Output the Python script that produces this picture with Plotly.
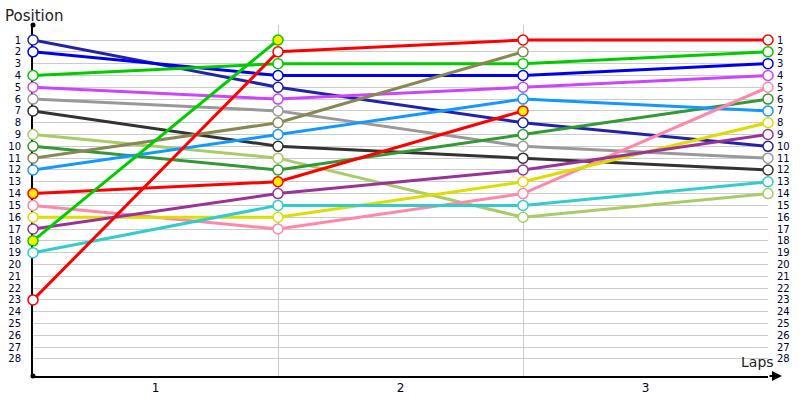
import plotly.graph_objects as go

laps = [0, 1, 2, 3]
lap_labels = ["1", "2", "3"]
positions_axis = list(range(1, 29))

navy = [1, 5, 8, 10]
blue = [2, 4, 4, 3]
green = [4, 3, 3, 2]
violet = [5, 6, 5, 4]
gray = [6, 7, 10, 11]
darkgray = [7, 10, 11, 12]
lightgreen = [9, 11, 16, 14]
darkgreen = [10, 12, 9, 6]
olive = [11, 8, 2]
lightblue = [12, 9, 6, 7]
red_current = [14, 13, 7]
pink = [15, 17, 14, 5]
yellow = [16, 16, 13, 8]
purple = [17, 14, 12, 9]
green_current = [18, 1]
cyan = [19, 15, 15, 13]
red = [23, 2, 1, 1]

series = [
    (navy, "#2222aa", "white"),
    (blue, "#0000ee", "white"),
    (green, "#00cc00", "white"),
    (violet, "#cc44ff", "white"),
    (gray, "#999999", "white"),
    (darkgray, "#333333", "white"),
    (lightgreen, "#a8cc66", "white"),
    (darkgreen, "#339933", "white"),
    (olive, "#888855", "white"),
    (lightblue, "#1199ff", "white"),
    (pink, "#ff88aa", "white"),
    (yellow, "#dddd00", "white"),
    (purple, "#993399", "white"),
    (cyan, "#33cccc", "white"),
    (red_current, "#ff0000", "#ffee00"),
    (green_current, "#00cc00", "#ffee00"),
    (red, "#ff0000", "white"),
]

fig = go.Figure()
for vals, col, fill in series:
    fig.add_trace(go.Scatter(
        x=laps[:len(vals)], y=vals, mode="lines+markers",
        line=dict(color=col, width=3),
        marker=dict(size=10, color=fill, line=dict(color=col, width=1.5)),
        cliponaxis=False, hoverinfo="skip", showlegend=False,
    ))
# invisible trace to carry right axis
fig.add_trace(go.Scatter(x=[0], y=[1], yaxis="y2", mode="markers",
                         marker=dict(opacity=0), showlegend=False, hoverinfo="skip"))

W, H = 735, 351
yr = [29.44, -0.27]
tickfont = dict(family="DejaVu Sans", size=10, color="#000033")
fig.update_layout(
    width=800, height=400,
    margin=dict(l=33, r=32, t=25, b=24, autoexpand=False),
    plot_bgcolor="white", paper_bgcolor="white",
    xaxis=dict(range=[0, 3], tickvals=[0.5, 1.5, 2.5], ticktext=lap_labels, automargin=False,
               showgrid=False, zeroline=False, showline=True, linecolor="black",
               linewidth=2, ticks="", tickfont=dict(family="DejaVu Sans", size=12, color="#000033"),
               ticklabelstandoff=0, layer="below traces",
               minor=dict(tickvals=[1, 2, 3], showgrid=True, gridcolor="#cccccc", gridwidth=1, ticks="")),
    yaxis=dict(range=yr, tickvals=positions_axis, showgrid=True, gridcolor="#cccccc",
               zeroline=False, showline=True, linecolor="black", linewidth=2, automargin=False,
               ticks="", tickfont=tickfont, ticklabelstandoff=8, layer="below traces"),
    yaxis2=dict(range=yr, tickvals=positions_axis, overlaying="y", side="right", automargin=False,
                showgrid=False, zeroline=False, showline=False, ticks="",
                tickfont=tickfont, ticklabelstandoff=8),
    annotations=[
        dict(text="Position", xref="paper", yref="paper", x=-30/W, y=1 + 20/H,
             xanchor="left", yanchor="top", showarrow=False,
             font=dict(family="DejaVu Sans", size=15, color="#222222")),
        dict(text="Laps", xref="paper", yref="paper", x=1 + 8/W, y=4/H,
             xanchor="right", yanchor="bottom", showarrow=False,
             font=dict(family="DejaVu Sans", size=14, color="#222222")),
        dict(x=1 + 14/W, y=0, xref="paper", yref="paper", ax=-14, ay=0,
             text="", showarrow=True, arrowhead=2, arrowsize=1, arrowwidth=2,
             arrowcolor="black", standoff=0),
    ],
    shapes=[
        dict(type="circle", xref="paper", yref="paper", x0=-2.5/W, x1=2.5/W,
             y0=1 - 2.5/H, y1=1 + 2.5/H, fillcolor="black", line=dict(width=0)),
        dict(type="circle", xref="paper", yref="paper", x0=-2.5/W, x1=2.5/W,
             y0=-2.5/H, y1=2.5/H, fillcolor="black", line=dict(width=0)),
    ],
)
fig.write_html("out.html", post_script="document.body.style.margin='0';",
               config={"displayModeBar": False})
